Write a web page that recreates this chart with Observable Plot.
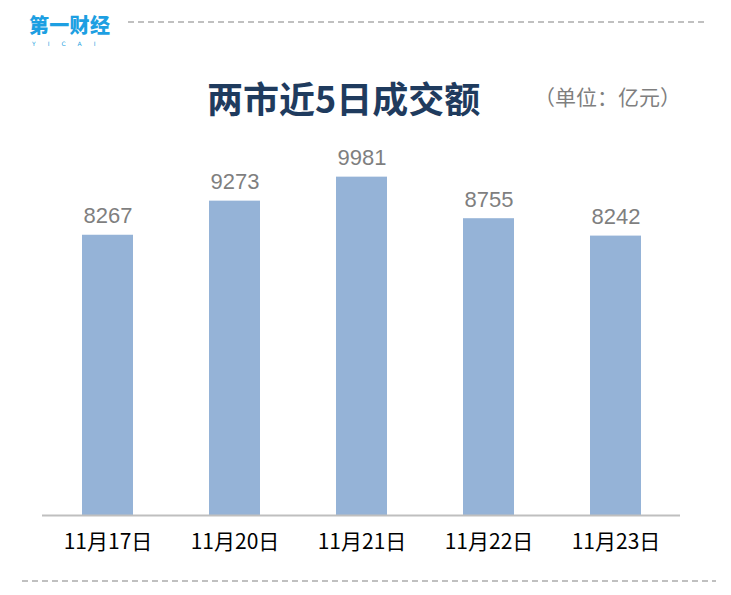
<!DOCTYPE html>
<html>
<head>
<meta charset="utf-8">
<script src="https://cdn.jsdelivr.net/npm/d3@7"></script>
<script src="https://cdn.jsdelivr.net/npm/@observablehq/plot@0.6"></script>
<style>
  html, body { margin: 0; padding: 0; background: #fff; }
  #wrap { position: relative; width: 731px; height: 595px; overflow: hidden; background: #fff; }
  .dash { position: absolute; height: 2px;
    background: repeating-linear-gradient(to right, #c0c0c0 0 6px, transparent 6px 10px); }
  .logo-cn { position: absolute; left: 29px; top: 10px; line-height: normal;
    color: #1d9fe2; font-family: "Noto Sans CJK SC", sans-serif; font-size: 20px; font-weight: 900; letter-spacing: 0.3px; white-space: nowrap; }
  .logo-en { position: absolute; left: 32px; top: 40px; line-height: normal;
    color: #1d9fe2; font-family: "DejaVu Sans", sans-serif; font-size: 6px; letter-spacing: 12px; white-space: nowrap; }
  #title { position: absolute; left: 207px; top: 74px; font-family: "Noto Sans CJK SC", sans-serif; font-weight: 700;
    font-size: 36px; color: #1f3b5e; line-height: 46px; white-space: nowrap; }
  #unit { position: absolute; left: 534px; top: 81px; font-family: "Noto Sans CJK SC", sans-serif; font-size: 21px;
    color: #7f7f7f; line-height: 30px; white-space: nowrap; }
  #chart { position: absolute; left: 0; top: 140px; }
</style>
</head>
<body>
<div id="wrap">
  <div class="logo-cn">第一财经</div>
  <div class="logo-en">YICAI</div>
  <div class="dash" style="left:128px; top:21px; width:580px;"></div>
  <div id="title">两市近5日成交额</div>
  <div id="unit">（单位：亿元）</div>
  <div id="chart"></div>
  <div class="dash" style="left:22px; top:580px; width:694px;"></div>
</div>
<script>
const dates = ["11月17日", "11月20日", "11月21日", "11月22日", "11月23日"];
const values = [8267, 9273, 9981, 8755, 8242];

const data = dates.map((d, i) => ({date: d, value: values[i]}));

const chart = Plot.plot({
  width: 731,
  height: 440,
  marginLeft: 42,
  marginRight: 51,
  marginTop: 36,
  marginBottom: 65,
  style: {background: "transparent", overflow: "visible"},
  x: {domain: dates, paddingInner: 0.6, paddingOuter: 0.3, label: null},
  y: {domain: [0, 10000], axis: null},
  marks: [
    Plot.barY(data, {x: "date", y: "value", fill: "#95b3d7"}),
    Plot.ruleY([0], {stroke: "#bfbfbf", strokeWidth: 2}),
    Plot.text(data, {x: "date", y: "value", text: d => String(d.value), lineAnchor: "bottom", dy: -12,
      fill: "#7f7f7f", fontSize: 22, fontFamily: "Liberation Sans, Arial, sans-serif"}),
    Plot.axisX({tickSize: 0, tickPadding: 19, fontSize: 21, fill: "#000",
      fontFamily: "Noto Sans CJK SC, sans-serif", label: null})
  ]
});
document.getElementById("chart").appendChild(chart);
</script>
</body>
</html>
